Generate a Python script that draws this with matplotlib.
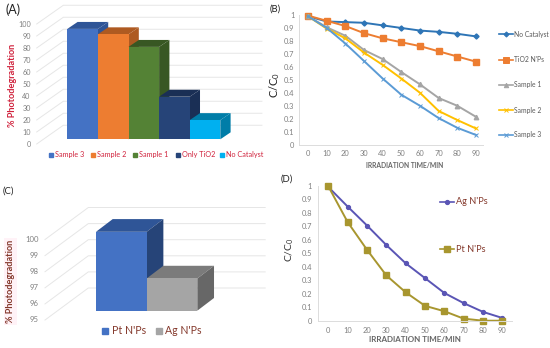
import matplotlib
matplotlib.use("Agg")
import matplotlib.pyplot as plt
from matplotlib.patches import Polygon

plt.rcParams["font.family"] = ["Lato", "DejaVu Sans"]
plt.rcParams["mathtext.default"] = "regular"

W, H = 550, 348

# Panel A
a_names = ["Sample 3", "Sample 2", "Sample 1", "Only TiO2", "No Catalyst"]
a_values = [92, 87.5, 77, 35.5, 16]
a_ticks = [0, 10, 20, 30, 40, 50, 60, 70, 80, 90, 100]
a_front = ["#4472C4", "#ED7D31", "#548235", "#264478", "#00B0F0"]
a_dark = ["#2F5597", "#AE5A21", "#385723", "#1A2F55", "#007DA8"]

# Panel B
times = [0, 10, 20, 30, 40, 50, 60, 70, 80, 90]
b_no_catalyst = [0.99, 0.95, 0.945, 0.94, 0.92, 0.90, 0.88, 0.87, 0.855, 0.835]
b_tio2 = [0.995, 0.955, 0.915, 0.86, 0.82, 0.79, 0.76, 0.72, 0.68, 0.64]
b_sample1 = [0.99, 0.905, 0.84, 0.73, 0.66, 0.56, 0.465, 0.36, 0.30, 0.215]
b_sample2 = [0.99, 0.895, 0.82, 0.71, 0.615, 0.51, 0.40, 0.26, 0.19, 0.125]
b_sample3 = [0.99, 0.90, 0.78, 0.645, 0.51, 0.385, 0.30, 0.205, 0.13, 0.075]
y_ticks = [0, 0.1, 0.2, 0.3, 0.4, 0.5, 0.6, 0.7, 0.8, 0.9, 1]

# Panel C
c_names = ["Pt N'Ps", "Ag N'Ps"]
c_values = [99.9, 97.0]
c_ticks = [95, 96, 97, 98, 99, 100]
c_front = ["#4472C4", "#A5A5A5"]
c_top = ["#2F5597", "#7B7B7B"]
c_side = ["#264478", "#676767"]

# Panel D
d_ag = [0.99, 0.845, 0.705, 0.56, 0.425, 0.315, 0.205, 0.13, 0.065, 0.02]
d_pt = [0.995, 0.73, 0.525, 0.335, 0.21, 0.11, 0.07, 0.015, 0, 0]

GRID = "#e6e6e6"
TICK = "#808080"
RED = "#D0223C"
BROWN = "#84392C"

fig = plt.figure(figsize=(W / 100, H / 100), dpi=100)


def axes_px(x0, y_top, x1, y_bottom):
    ax = fig.add_axes([x0 / W, 1 - y_bottom / H, (x1 - x0) / W, (y_bottom - y_top) / H])
    ax.patch.set_alpha(0)
    return ax


def bars_3d(ax, values, base, front, top, side, dx, dy):
    for i, v in enumerate(values):
        ax.bar(i + 0.5, v - base, width=1, bottom=base, color=front[i], zorder=3 + i)
        ax.add_patch(Polygon([(i, v), (i + dx, v + dy), (i + 1 + dx, v + dy), (i + 1, v)],
                             color=top[i], lw=0, zorder=2.5 + i, clip_on=False))
        ax.add_patch(Polygon([(i + 1, base), (i + 1 + dx, base + dy), (i + 1 + dx, v + dy), (i + 1, v)],
                             color=side[i], lw=0, zorder=2.5 + i, clip_on=False))


def wall_grid(ax, ticks, x_start, y_start, x_corner, y_corner, x_end):
    for v in ticks:
        ax.plot([x_start, x_corner, x_end], [v + y_start, v + y_corner, v + y_corner],
                color=GRID, lw=0.7, zorder=1, clip_on=False)


def line_axes(ax, xlim, pad):
    ax.set_xlim(*xlim)
    ax.set_ylim(0, 1)
    ax.set_xticks(times)
    ax.set_xticklabels([str(t) for t in times])
    ax.set_yticks(y_ticks)
    ax.set_yticklabels([str(t) for t in y_ticks])
    ax.tick_params(length=0, labelsize=5.4, labelcolor=TICK, pad=pad)
    for s in ["top", "right"]:
        ax.spines[s].set_visible(False)
    for s in ["left", "bottom"]:
        ax.spines[s].set_color("#dcdcdc")
        ax.spines[s].set_linewidth(0.7)


# (A)
ax_a = axes_px(67.3, 19.3, 220.3, 139.3)
ax_a.set_xlim(0, 5)
ax_a.set_ylim(0, 100)
ax_a.axis("off")
wall_grid(ax_a, a_ticks, -1, -3.9, -0.13, 11.7, 6.36)
bars_3d(ax_a, a_values, 0, a_front, a_dark, a_dark, 0.337, 5.8)
for v in a_ticks:
    ax_a.annotate(str(v), xy=(0, v), xytext=(-36.6 * 0.72, -5 * 0.72), textcoords="offset points",
                  ha="right", va="center", fontsize=5.2, color=TICK)

# (B)
ax_b = axes_px(299.3, 15, 482.7, 144.7)
line_axes(ax_b, (-4.7, 93.6), 3.5)
ax_b.plot(times, b_no_catalyst, color="#2E75B6", lw=1.4, marker="D", ms=2.6, clip_on=False)
ax_b.plot(times, b_tio2, color="#ED7D31", lw=1.4, marker="s", ms=4, clip_on=False)
ax_b.plot(times, b_sample1, color="#A5A5A5", lw=1.4, marker="^", ms=3.2, clip_on=False)
ax_b.plot(times, b_sample2, color="#FFC000", lw=1.4, marker="x", ms=3, mew=0.7, clip_on=False)
ax_b.plot(times, b_sample3, color="#5B9BD5", lw=1.4, marker="x", ms=2.6, mew=0.7, clip_on=False)

# (C)
ax_c = axes_px(96, 230.2, 197.3, 310.7)
ax_c.set_xlim(0, 2)
ax_c.set_ylim(95, 100)
ax_c.axis("off")
wall_grid(ax_c, c_ticks, -1.007, -0.58, -0.152, 1.41, 3.34)
bars_3d(ax_c, c_values, 95, c_front, c_top, c_side, 0.33, 0.79)
for v in c_ticks:
    ax_c.annotate(str(v), xy=(0, v), xytext=(-57 * 0.72, -9 * 0.72), textcoords="offset points",
                  ha="right", va="center", fontsize=5.6, color=TICK)

# (D)
ax_d = axes_px(318.3, 185.7, 511.7, 320.7)
line_axes(ax_d, (-5.2, 94.8), 4.5)
ax_d.plot(times, d_ag, color="#5A55B5", lw=1.4, marker="o", ms=2.8, clip_on=False)
ax_d.plot(times, d_pt, color="#A8962F", lw=1.4, marker="s", ms=4, clip_on=False)

# overlay in pixel coordinates for the panel letters, titles and legends
ov = fig.add_axes([0, 0, 1, 1])
ov.set_xlim(0, W)
ov.set_ylim(H, 0)
ov.axis("off")
ov.patch.set_alpha(0)

ov.text(6, 10, "(A)", fontsize=9, color="#222222", va="center")
ov.text(270, 9, "(B)", fontsize=6.8, color="#222222", va="center")
ov.text(3, 191, "(C)", fontsize=6.8, color="#222222", va="center")
ov.text(281, 179, "(D)", fontsize=6.8, color="#222222", va="center")

ov.text(13, 85, "% Photodegradation", rotation=90, fontsize=6.6, fontweight="bold",
        color=RED, ha="center", va="center")
ov.text(10.5, 281.5, "% Photodegradation", rotation=90, fontsize=6.6, fontweight="bold",
        color=BROWN, ha="center", va="center",
        bbox=dict(facecolor="#FFF2F7", edgecolor="none", pad=1.5))

ov.text(275, 85, "C/C$_0$", rotation=90, fontsize=8, color="#222222", ha="center", va="center")
ov.text(290, 250, "C/C$_0$", rotation=90, fontsize=7.5, color="#333333", ha="center", va="center")
ov.text(405, 165.7, "IRRADIATION TIME/MIN", fontsize=4.9, fontweight="bold", color="#666666",
        ha="center", va="center")
ov.text(415, 340, "IRRADIATION TIME/MIN", fontsize=5.8, fontweight="bold", color="#666666",
        ha="center", va="center")

# legend of A
a_square_x = [51, 93, 135, 177.7, 221.7]
for i, name in enumerate(a_names):
    ov.plot([a_square_x[i]], [154.5], marker="s", ms=3, color=a_front[i], ls="none")
    ov.text(a_square_x[i] + 4, 154.5, name, fontsize=5.2, color=RED, va="center")

# legend of B
b_legend_y = [34, 60, 85, 110, 135]
b_legend_names = ["No Catalyst", "TiO2 N'Ps", "Sample 1", "Sample 2", "Sample 3"]
b_legend_colors = ["#2E75B6", "#ED7D31", "#A5A5A5", "#FFC000", "#5B9BD5"]
b_legend_markers = ["D", "s", "^", "x", "x"]
b_legend_sizes = [2.6, 4, 3.2, 3, 2.6]
for i, name in enumerate(b_legend_names):
    ov.plot([499, 506, 513], [b_legend_y[i]] * 3, color=b_legend_colors[i], lw=1.2,
            marker=b_legend_markers[i], markevery=[1], ms=b_legend_sizes[i], mew=0.7)
    ov.text(514.5, b_legend_y[i], name, fontsize=4.9, color="#595959", va="center")

# legend of C
for x, name, col in zip([105, 158.5], c_names, c_front):
    ov.plot([x], [330.7], marker="s", ms=4.6, color=col, ls="none")
    ov.text(x + 6.7, 330.7, name, fontsize=7.6, color=BROWN, va="center")

# legend of D
ov.plot([440, 447, 454], [202] * 3, color="#5A55B5", lw=1.2, marker="o", markevery=[1], ms=2.8)
ov.text(456, 202, "Ag N'Ps", fontsize=6.6, color=BROWN, va="center")
ov.plot([440, 447, 454], [249] * 3, color="#A8962F", lw=1.2, marker="s", markevery=[1], ms=4)
ov.text(456, 249, "Pt N'Ps", fontsize=6.6, color=BROWN, va="center")

plt.savefig("out.png", dpi=100)
